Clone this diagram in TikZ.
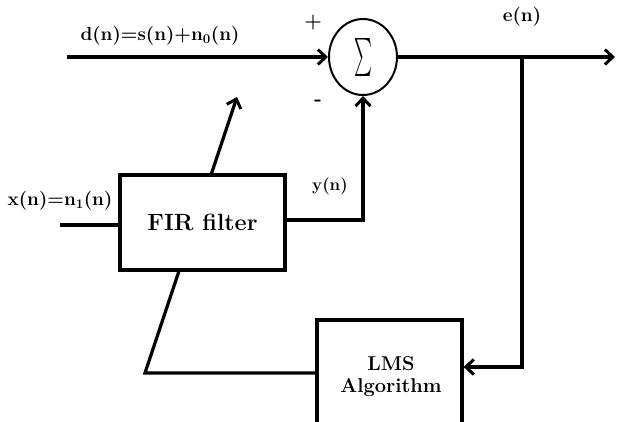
\documentclass[tikz,border=0pt]{standalone}
\usepackage{graphicx}
\usetikzlibrary{arrows.meta,shapes.geometric,calc}
\begin{document}
\begin{tikzpicture}[x=1pt,y=-1pt,
  wire/.style={line width=3.3pt},
  arr/.style={wire,-{Straight Barb[length=8pt,width=15pt,line width=3pt]}},
  blk/.style={draw,line width=3.3pt,inner sep=0pt},
  lbl/.style={font=\fontsize{19}{21}\selectfont\bfseries,inner sep=0pt},
  sgn/.style={font=\fontsize{20}{22}\selectfont\bfseries,inner sep=0pt}]
\useasboundingbox (0,0) rectangle (619,421);
\clip (0,0) rectangle (619,421);
% blocks
\node[ellipse,draw,line width=2pt,minimum width=68pt,minimum height=76pt,inner sep=0pt] (sum) at (363,57) {\resizebox*{18pt}{38pt}{$\sum$}};
\node[blk,minimum width=165pt,minimum height=95pt,font=\fontsize{23.5}{26}\selectfont\bfseries] (fir) at (202.5,222.5) {FIR filter};
\node[blk,minimum width=145pt,minimum height=116pt] (lms) at (389.5,378) {};
\node[inner sep=0pt,align=center,font=\fontsize{20}{22}\selectfont\bfseries] (lmst) at (391,377) {LMS\\Algorithm};
% coordinates
\coordinate (din) at (67,57);
\coordinate (out) at (615,57);
\coordinate (br) at (522,57);
\coordinate (e1) at (522,367);
\coordinate (yc) at (363,220);
\coordinate (xin) at (60,225);
\coordinate (fb) at (145,373);
\coordinate (tip) at (237,97);
% connectors
\draw[arr] (din) -- (sum.west);
\draw[arr] (sum.east) -- (out);
\draw[arr] (br) -- (e1) -- (lms.east|-e1);
\draw[arr] (fir.east|-yc) -| (sum.south);
\draw[wire] (xin) -- (fir.west|-xin);
\draw[wire,line join=miter] (lms.west|-fb) -- (fb) -- ($(fb)!0.373!(tip)$);
\draw[arr] ($(fb)!0.717!(tip)$) -- (tip);
% labels
\node[lbl] (dl) at (160,36) {d(n)=s(n)+n\textsubscript{0}(n)};
\node[lbl] (xl) at (60,201) {x(n)=n\textsubscript{1}(n)};
\node[lbl,font=\fontsize{17}{19}\selectfont\bfseries] (yl) at (330,186) {y(n)};
\node[lbl] (el) at (522,17) {e(n)};
\node[sgn] (plus) at (313,23) {+};
\node[sgn] (minus) at (318,103) {-};
\end{tikzpicture}
\end{document}
